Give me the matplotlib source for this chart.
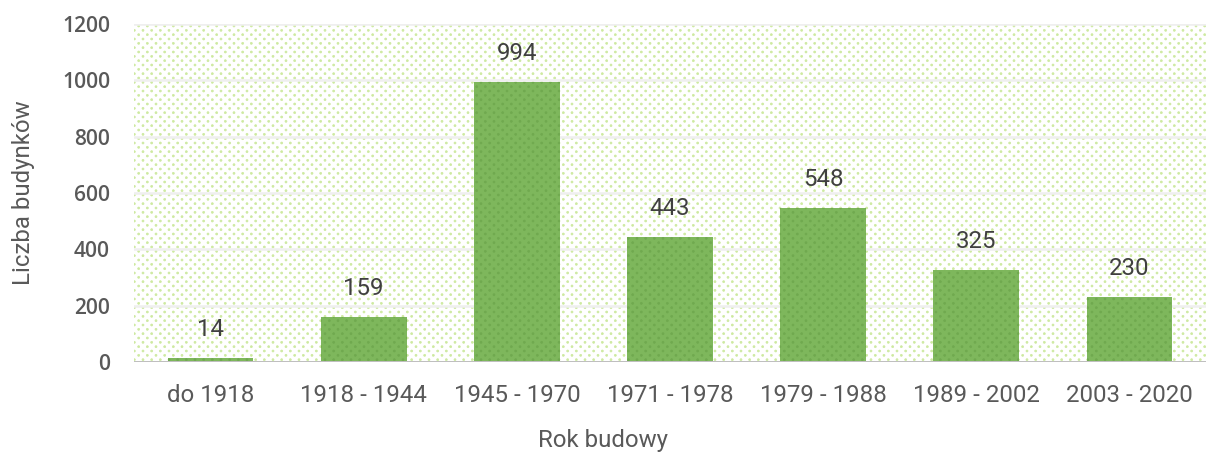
import matplotlib
matplotlib.use("Agg")
import numpy as np
import matplotlib.pyplot as plt
import matplotlib.hatch as mhatch
from matplotlib.path import Path
from matplotlib.patches import Rectangle

categories = ["do 1918", "1918 - 1944", "1945 - 1970", "1971 - 1978",
              "1979 - 1988", "1989 - 2002", "2003 - 2020"]
values = [14, 159, 994, 443, 548, 325, 230]
yticks = [0, 200, 400, 600, 800, 1000, 1200]

DPI = 130
W, H = 1206, 458
def px(p):  # pixels -> points
    return p * 72 / DPI


# custom staggered dot pattern (Excel "5%"-like) for the '.' hatch
class StaggerDots(mhatch.HatchPatternBase):
    filled = True

    def __init__(self, hatch, density):
        self.on = hatch.count('.') > 0
        self.cols = 15
        self.rows = 30
        circ = Path.unit_circle()
        self.shape_vertices = circ.vertices
        self.shape_codes = circ.codes
        if self.on:
            n_even = (self.rows // 2 + 1) * (self.cols + 1)
            n_odd = (self.rows // 2) * self.cols
            self.num_vertices = (n_even + n_odd) * len(self.shape_vertices)
        else:
            self.num_vertices = 0

    def set_vertices_and_codes(self, vertices, codes):
        r = 0.0075
        sv = self.shape_vertices * r
        vparts, cparts = [], []
        for row in range(self.rows + 1):
            if row % 2 == 0:
                cols = np.arange(self.cols + 1) / self.cols
            else:
                cols = (np.arange(self.cols) + 0.5) / self.cols
            for c in cols:
                vparts.append(sv + [c, row / self.rows])
                cparts.append(self.shape_codes)
        np.concatenate(vparts, out=vertices)
        np.concatenate(cparts, out=codes)


try:
    mhatch._hatch_types = [StaggerDots if t is mhatch.SmallFilledCircles else t
                           for t in mhatch._hatch_types]
except Exception:
    pass

plt.rcParams['hatch.linewidth'] = 0.4
fig = plt.figure(figsize=(W / DPI, H / DPI), dpi=DPI)
ax = fig.add_axes([134 / W, 1 - 362 / H, 1072 / W, 338 / H])

ax.set_xlim(-0.5, len(categories) - 0.5)
ax.set_ylim(0, 1200)

# dotted background
bg = Rectangle((0, 0), 1, 1, transform=ax.transAxes, facecolor="white",
               edgecolor="#cde9a0", hatch=".", linewidth=0, zorder=0)
ax.add_patch(bg)

for y in yticks[1:]:
    ax.axhline(y, color="#efefef", linewidth=px(2.5), zorder=1)

x = range(len(categories))
ax.bar(x, values, width=0.56, color="#7eb75c", zorder=2,
       edgecolor="#70a94f", hatch=".", linewidth=0)

lab_font = dict(family="Roboto", fontweight="normal", fontsize=px(24))

for xi, v in zip(x, values):
    ax.annotate(str(v), (xi, v), xytext=(0, px(17)), textcoords="offset points",
                ha="center", va="bottom", color="#404040", **lab_font)

ax.axhline(0, color="#bfbfbf", linewidth=px(3), zorder=3)

for s in ax.spines.values():
    s.set_visible(False)

ax.set_xticks(list(x))
ax.set_xticklabels(categories, color="#595959", **lab_font)
ax.set_yticks(yticks)
ax.set_yticklabels([str(t) for t in yticks], fontsize=px(21), color="#595959",
                   family="Open Sans", fontweight="semibold")
ax.tick_params(axis="both", length=0)
ax.tick_params(axis="x", pad=px(22))
ax.tick_params(axis="y", pad=px(24))

ax.set_ylabel("Liczba budynków", color="#595959", labelpad=px(27), **lab_font)
fig.text(0.5, 1 - 440 / H, "Rok budowy", ha="center", va="center",
         color="#595959", **lab_font)

fig.savefig("out.png", dpi=DPI)
